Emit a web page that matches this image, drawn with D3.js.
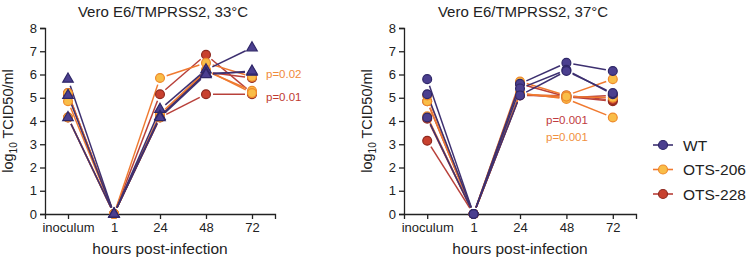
<html>
<head>
<style>
  body { margin: 0; background: #fff; }
  text { font-family: "Liberation Sans", Arial, sans-serif; fill: #222; }
</style>
</head>
<body>
<svg id="chart" width="753" height="268"></svg>
<script src="https://cdn.jsdelivr.net/npm/d3@7"></script>
<script>
// time points on the x axis
const timepoints = ["inoculum", "1", "24", "48", "72"]
const yTicks = [0, 1, 2, 3, 4, 5, 6, 7, 8]

// log10 TCID50/ml, one array per replicate (33°C)
const wt33 = [[5.8, 0, 4.5, 6.2, 7.15], [5.1, 0, 4.2, 6.05, 6.1], [4.15, 0, 4.15, 6.0, 6.15]]
const ots206_33 = [[5.2, 0, 5.85, 6.5, 5.9], [4.85, 0, 4.3, 6.15, 5.3], [4.15, 0, 4.15, 6.2, 5.2]]
const ots228_33 = [[5.15, 0, 5.15, 6.85, 5.2], [5.2, 0, 4.2, 6.1, 5.85], [4.15, 0, 4.15, 5.15, 5.15]]

// 37°C
const wt37 = [[5.8, 0, 5.6, 6.5, 6.15], [5.15, 0, 5.4, 6.2, 5.15], [4.15, 0, 5.1, 6.15, 5.2]]
const ots206_37 = [[4.85, 0, 5.7, 5.1, 5.8], [5.1, 0, 5.2, 4.95, 4.15], [4.2, 0, 5.15, 5.05, 5.0]]
const ots228_37 = [[3.15, 0, 5.6, 5.05, 4.85], [4.1, 0, 5.15, 5.0, 5.1], [4.85, 0, 5.1, 5.1, 4.9]]

const seriesNames = ["WT", "OTS-206", "OTS-228"]
const colors = {
    "WT": { fill: "#4b3f8f", stroke: "#2f2768", line: "#3d3070" },
    "OTS-206": { fill: "#f9bd48", stroke: "#ee8a2c", line: "#f07a30" },
    "OTS-228": { fill: "#c8412f", stroke: "#8f2a20", line: "#b8403a" }
}

const panels = [
    { title: "Vero E6/TMPRSS2, 33°C", left: 45, right: 275, triangles: true,
      data: { "WT": wt33, "OTS-206": ots206_33, "OTS-228": ots228_33 },
      pvals: [{ text: "p=0.02", color: "#f08a3a", x: 266, y: 78 }, { text: "p=0.01", color: "#c03a30", x: 266, y: 101 }] },
    { title: "Vero E6/TMPRSS2, 37°C", left: 404, right: 636, triangles: false,
      data: { "WT": wt37, "OTS-206": ots206_37, "OTS-228": ots228_37 },
      pvals: [{ text: "p=0.001", color: "#c03a40", x: 546, y: 124 }, { text: "p=0.001", color: "#f09040", x: 546, y: 141 }] }
]

const svg = d3.select("#chart")
const plotTop = 28, plotBottom = 214

panels.forEach(p => {
    let x = d3.scalePoint().domain(timepoints).range([p.left, p.right]).padding(0.5)
    let y = d3.scaleLinear().domain([0, 8]).range([plotBottom, plotTop])
    let g = svg.append("g")

    g.append("g")
        .attr("transform", `translate(${p.left},0)`)
        .call(d3.axisLeft(y).tickValues(yTicks).tickSize(5).tickPadding(3))
        .call(a => a.selectAll("text").style("font-size", "13px"))
    g.append("g")
        .attr("transform", `translate(0,${plotBottom})`)
        .call(d3.axisBottom(x).tickSize(5).tickPadding(4))
        .call(a => a.selectAll("text").style("font-size", "13px"))
    g.selectAll(".domain, .tick line").attr("stroke", "#222").attr("stroke-width", 1.3)

    g.append("text").attr("x", (p.left + p.right) / 2 + 3).attr("y", 17)
        .attr("text-anchor", "middle").style("font-size", "15px").text(p.title)
    g.append("text").attr("x", (p.left + p.right) / 2).attr("y", 254)
        .attr("text-anchor", "middle").style("font-size", "15.5px").text("hours post-infection")
    let yl = g.append("text")
        .attr("transform", `translate(${p.left - 32},${(plotTop + plotBottom) / 2}) rotate(-90)`)
        .attr("text-anchor", "middle").style("font-size", "14.5px")
    yl.append("tspan").text("log")
    yl.append("tspan").attr("dy", 4).style("font-size", "10px").text("10")
    yl.append("tspan").attr("dy", -4).text(" TCID50/ml")

    // connecting lines with a gap at each marker
    let gap = 7
    seriesNames.slice().reverse().forEach(name => {
        p.data[name].forEach(rep => {
            for (let i = 0; i < rep.length - 1; i++) {
                let x1 = x(timepoints[i]), y1 = y(rep[i]), x2 = x(timepoints[i + 1]), y2 = y(rep[i + 1])
                let len = Math.hypot(x2 - x1, y2 - y1)
                let dx = (x2 - x1) / len, dy = (y2 - y1) / len
                g.append("line")
                    .attr("x1", x1 + dx * gap).attr("y1", y1 + dy * gap)
                    .attr("x2", x2 - dx * gap).attr("y2", y2 - dy * gap)
                    .attr("stroke", colors[name].line).attr("stroke-width", 1.5)
            }
        })
    })

    // markers
    seriesNames.slice().reverse().forEach(name => {
        let pts = []
        p.data[name].forEach(rep => rep.forEach((v, i) => pts.push({ t: timepoints[i], v: v })))
        let shape = (p.triangles && name == "WT") ? d3.symbolTriangle : d3.symbolCircle
        let size = shape == d3.symbolCircle ? 62 : 48
        g.append("g").selectAll("path").data(pts).enter().append("path")
            .attr("d", d3.symbol().type(shape).size(size))
            .attr("transform", d => `translate(${x(d.t)},${y(d.v)})`)
            .attr("fill", colors[name].fill)
            .attr("stroke", colors[name].stroke).attr("stroke-width", 1.2)
    })

    p.pvals.forEach(pv => {
        g.append("text").attr("x", pv.x).attr("y", pv.y)
            .style("font-size", "11.5px").style("fill", pv.color).text(pv.text)
    })
})

// legend
let legend = svg.append("g")
seriesNames.forEach((name, i) => {
    let ly = 145 + i * 24.5
    legend.append("line").attr("x1", 653).attr("x2", 673).attr("y1", ly).attr("y2", ly)
        .attr("stroke", colors[name].line).attr("stroke-width", 1.6)
    legend.append("circle").attr("cx", 663).attr("cy", ly).attr("r", 4.5)
        .attr("fill", colors[name].fill).attr("stroke", colors[name].stroke).attr("stroke-width", 1.2)
    legend.append("text").attr("x", 683).attr("y", ly + 5.5)
        .style("font-size", "15.5px").text(name)
})
</script>
</body>
</html>
